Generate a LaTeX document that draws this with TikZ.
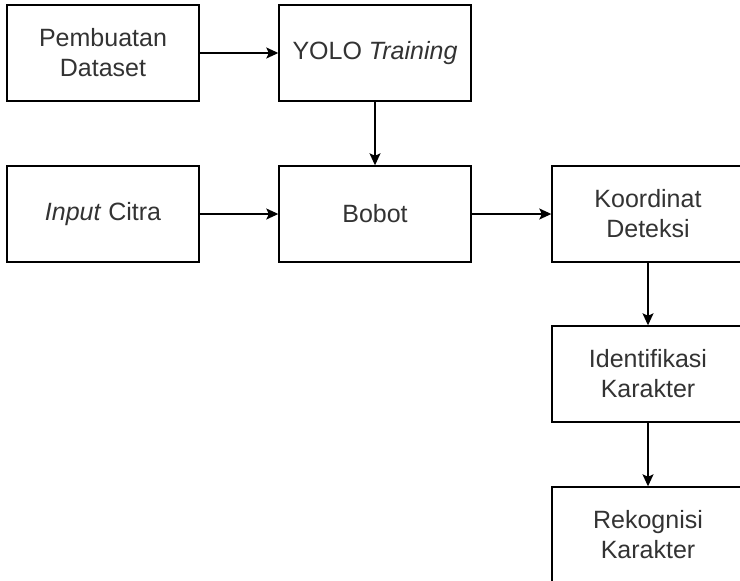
\documentclass[tikz,border=0pt]{standalone}
\usepackage{fontspec}
\setmainfont{Liberation Sans}
\usetikzlibrary{arrows.meta}
\definecolor{txtgray}{HTML}{333333}
\tikzset{
  blockbox/.style={draw=black, line width=1.4pt, fill=white,
    minimum width=192pt, minimum height=96pt, inner sep=0pt,
    align=center, text=txtgray,
    font=\fontsize{25}{30}\selectfont},
  flowarrow/.style={draw=black, line width=1.4pt,
    -{Stealth[length=12pt,width=11pt,inset=2.5pt]}}
}
\begin{document}
\begin{tikzpicture}[x=1pt,y=-1pt]
  \useasboundingbox (0,0) rectangle (740,581);
  \node[blockbox] (dataset) at (103,53)  {Pembuatan\\Dataset};
  \node[blockbox] (yolo)    at (375,53)  {YOLO \textit{Training}};
  \node[blockbox] (input)   at (103,214) {\textit{Input} Citra};
  \node[blockbox] (bobot)   at (375,214) {Bobot};
  \node[blockbox] (koord)   at (648,214) {Koordinat\\Deteksi};
  \node[blockbox] (ident)   at (648,374) {Identifikasi\\Karakter};
  \node[blockbox] (rekog)   at (648,535) {Rekognisi\\Karakter};

  \draw[flowarrow] (dataset) -- (yolo);
  \draw[flowarrow] (yolo) -- (bobot);
  \draw[flowarrow] (input) -- (bobot);
  \draw[flowarrow] (bobot) -- (koord);
  \draw[flowarrow] (koord) -- (ident);
  \draw[flowarrow] (ident) -- (rekog);
\end{tikzpicture}
\end{document}
